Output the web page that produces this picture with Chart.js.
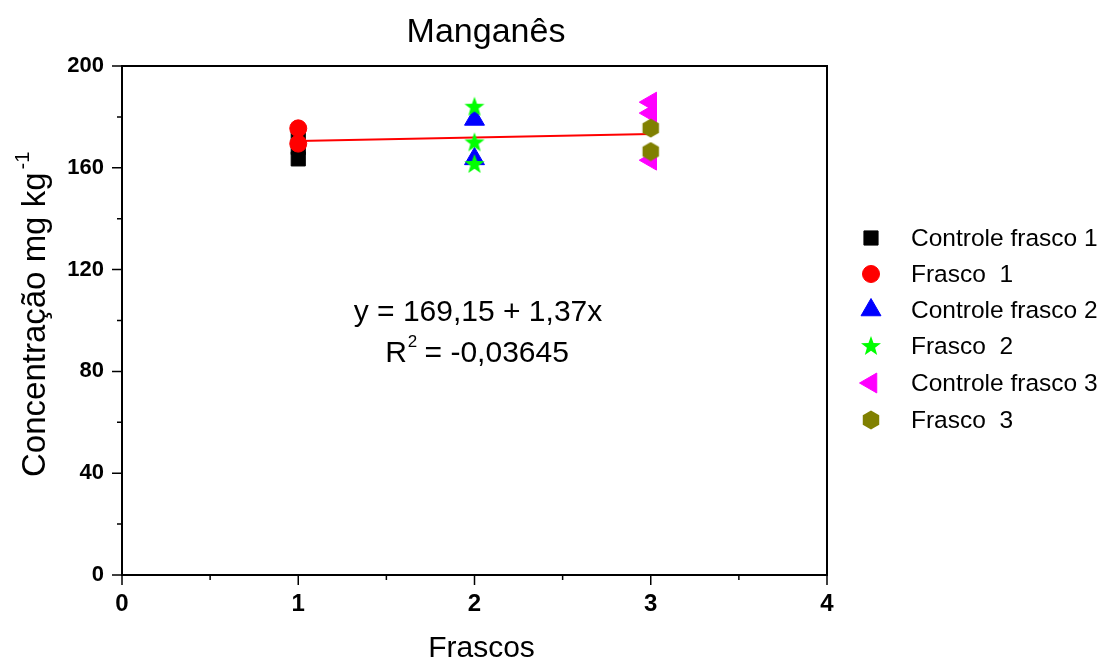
<!DOCTYPE html>
<html>
<head>
<meta charset="utf-8">
<title>Manganês</title>
<script src="https://cdn.jsdelivr.net/npm/chart.js@4/dist/chart.umd.min.js"></script>
<style>
  html, body { margin: 0; padding: 0; background: #fff; }
  canvas { display: block; }
</style>
</head>
<body>
<canvas id="chart" width="1104" height="662"></canvas>
<script>
// Mn concentration (mg/kg) per flask, replicate readings per group
const frascos = [1, 2, 3];
const xTicks = [0, 1, 2, 3, 4];
const yTicks = [0, 40, 80, 120, 160, 200];

const controleFrasco1 = [163.5, 168, 173];
const frasco1 = [175.5, 169.5];
const controleFrasco2 = [179, 163.5];
const frasco2 = [184, 170, 161.5];
const controleFrasco3 = [185.8, 181.5, 163];
const frasco3 = [175.6, 166.4];

// linear fit reported on the plot
const fitIntercept = 169.15;
const fitSlope = 1.37;
const fitR2 = '-0,03645';

const FONT = '"Liberation Sans", Arial, Helvetica, sans-serif';

function shapeCanvas(size, draw) {
  const c = document.createElement('canvas');
  c.width = size; c.height = size;
  const g = c.getContext('2d');
  draw(g, size / 2);
  return c;
}

const starImg = shapeCanvas(22, (g, c) => {
  const R = 10.5, r = 4.3;
  g.beginPath();
  for (let i = 0; i < 10; i++) {
    const a = -Math.PI / 2 + i * Math.PI / 5;
    const rad = i % 2 === 0 ? R : r;
    const px = c + rad * Math.cos(a), py = c + 0.5 + rad * Math.sin(a);
    i === 0 ? g.moveTo(px, py) : g.lineTo(px, py);
  }
  g.closePath();
  g.fillStyle = '#00ff00';
  g.fill();
});

const hexImg = shapeCanvas(20, (g, c) => {
  const R = 9.5;
  g.beginPath();
  for (let i = 0; i < 6; i++) {
    const a = -Math.PI / 2 + i * Math.PI / 3;
    const px = c + R * Math.cos(a), py = c + R * Math.sin(a);
    i === 0 ? g.moveTo(px, py) : g.lineTo(px, py);
  }
  g.closePath();
  g.fillStyle = '#808000';
  g.fill();
});

function points(x, values) {
  return values.map(v => ({ x: x, y: v }));
}

const series = [
  { label: 'Controle frasco 1', data: points(frascos[0], controleFrasco1), color: '#000000', style: 'rect', radius: 10, rotation: 0 },
  { label: 'Frasco  1', data: points(frascos[0], frasco1), color: '#ff0000', style: 'circle', radius: 8.5, rotation: 0 },
  { label: 'Controle frasco 2', data: points(frascos[1], controleFrasco2), color: '#0000ff', style: 'triangle', radius: 11.5, rotation: 0 },
  { label: 'Frasco  2', data: points(frascos[1], frasco2), color: '#00ff00', style: starImg, radius: 10, rotation: 0 },
  { label: 'Controle frasco 3', data: points(frascos[2], controleFrasco3), color: '#ff00ff', style: 'triangle', radius: 11.5, rotation: -90 },
  { label: 'Frasco  3', data: points(frascos[2], frasco3), color: '#808000', style: hexImg, radius: 9.5, rotation: 0 }
];

const datasets = series.map((s, i) => ({
  type: 'scatter',
  label: s.label,
  data: s.data,
  backgroundColor: s.color,
  borderColor: s.color,
  borderWidth: 1,
  pointStyle: s.style,
  pointRadius: s.radius,
  pointHoverRadius: s.radius,
  pointRotation: s.rotation,
  order: 10 - i,
  inLegend: true
}));

const fitStart = frascos[0], fitEnd = frascos[frascos.length - 1];
datasets.push({
  type: 'line',
  label: 'ajuste linear',
  data: [
    { x: fitStart, y: fitIntercept + fitSlope * fitStart },
    { x: fitEnd, y: fitIntercept + fitSlope * fitEnd }
  ],
  borderColor: '#ff0000',
  borderWidth: 2,
  pointRadius: 0,
  fill: false,
  order: 100,
  inLegend: false
});

// frame, tick marks, titles, legend and fit text
const decorations = {
  id: 'decorations',
  afterDraw(chart) {
    const ctx = chart.ctx;
    const area = chart.chartArea;
    const xs = chart.scales.x, ys = chart.scales.y;
    ctx.save();

    // plot frame
    ctx.strokeStyle = '#000';
    ctx.lineWidth = 2;
    ctx.strokeRect(area.left, area.top, area.right - area.left, area.bottom - area.top);

    // tick marks, major and minor, pointing outward
    ctx.lineWidth = 1.5;
    ctx.beginPath();
    for (let i = 0; i < xTicks.length; i++) {
      const px = xs.getPixelForValue(xTicks[i]);
      ctx.moveTo(px, area.bottom); ctx.lineTo(px, area.bottom + 10);
      if (i < xTicks.length - 1) {
        const mx = xs.getPixelForValue((xTicks[i] + xTicks[i + 1]) / 2);
        ctx.moveTo(mx, area.bottom); ctx.lineTo(mx, area.bottom + 5);
      }
    }
    for (let i = 0; i < yTicks.length; i++) {
      const py = ys.getPixelForValue(yTicks[i]);
      ctx.moveTo(area.left, py); ctx.lineTo(area.left - 10, py);
      if (i < yTicks.length - 1) {
        const my = ys.getPixelForValue((yTicks[i] + yTicks[i + 1]) / 2);
        ctx.moveTo(area.left, my); ctx.lineTo(area.left - 5, my);
      }
    }
    ctx.stroke();

    ctx.fillStyle = '#000';

    // chart title
    ctx.font = '34px ' + FONT;
    ctx.textAlign = 'center';
    ctx.textBaseline = 'alphabetic';
    ctx.fillText('Manganês', 486, 42);

    // x axis title
    ctx.font = '30px ' + FONT;
    ctx.fillText('Frascos', (area.left + area.right) / 2 + 7, 657);

    // y axis title with superscript unit
    ctx.save();
    ctx.translate(45, 477);
    ctx.rotate(-Math.PI / 2);
    ctx.textAlign = 'left';
    ctx.font = '33px ' + FONT;
    const main = 'Concentração mg kg';
    ctx.fillText(main, 0, 0);
    const w = ctx.measureText(main).width;
    ctx.font = '20px ' + FONT;
    ctx.fillText('-1', w + 3, -16);
    ctx.restore();

    // fit equation
    ctx.textAlign = 'left';
    ctx.font = '30px ' + FONT;
    const eq = 'y = ' + fitIntercept.toFixed(2).replace('.', ',') + ' + ' + fitSlope.toFixed(2).replace('.', ',') + 'x';
    const eqW = ctx.measureText(eq).width;
    ctx.fillText(eq, 478 - eqW / 2, 321);
    const rest = ' = ' + fitR2;
    const rW = ctx.measureText('R').width;
    const restW = ctx.measureText(rest).width;
    ctx.font = '17px ' + FONT;
    const supW = ctx.measureText('2').width;
    const totalW = rW + supW + restW;
    const x0 = 477 - totalW / 2;
    ctx.font = '30px ' + FONT;
    ctx.fillText('R', x0, 362);
    ctx.font = '17px ' + FONT;
    ctx.fillText('2', x0 + rW + 1, 347);
    ctx.font = '30px ' + FONT;
    ctx.fillText(rest, x0 + rW + supW, 362);

    // legend
    const rowY = [238, 274, 310, 346, 383, 420];
    let row = 0;
    chart.data.datasets.forEach(ds => {
      if (!ds.inLegend) return;
      const y = rowY[row++];
      ctx.fillStyle = ds.backgroundColor;
      ctx.strokeStyle = ds.borderColor;
      ctx.lineWidth = 1;
      Chart.helpers.drawPoint(ctx, {
        pointStyle: ds.pointStyle,
        radius: ds.pointRadius,
        rotation: ds.pointRotation,
        borderWidth: 1
      }, 871, y);
      ctx.fillStyle = '#000';
      ctx.font = '24.5px ' + FONT;
      ctx.textAlign = 'left';
      ctx.textBaseline = 'middle';
      ctx.fillText(ds.label, 911, y + 1);
    });

    ctx.restore();
  }
};

new Chart(document.getElementById('chart'), {
  data: { datasets: datasets },
  options: {
    responsive: false,
    devicePixelRatio: 1,
    animation: false,
    layout: { padding: { left: 0, top: 66, right: 277, bottom: 0 } },
    plugins: {
      legend: { display: false },
      title: { display: false },
      tooltip: { enabled: false }
    },
    scales: {
      x: {
        type: 'linear',
        min: xTicks[0],
        max: xTicks[xTicks.length - 1],
        afterBuildTicks(scale) { scale.ticks = xTicks.map(v => ({ value: v })); },
        afterFit(scale) { scale.height = 87; },
        grid: { display: false, drawTicks: false },
        border: { display: false },
        ticks: {
          color: '#000',
          font: { family: FONT, size: 24, weight: 'bold' },
          padding: 15,
          maxRotation: 0
        }
      },
      y: {
        type: 'linear',
        min: yTicks[0],
        max: yTicks[yTicks.length - 1],
        afterBuildTicks(scale) { scale.ticks = yTicks.map(v => ({ value: v })); },
        afterFit(scale) { scale.width = 122; },
        grid: { display: false, drawTicks: false },
        border: { display: false },
        ticks: {
          color: '#000',
          font: { family: FONT, size: 22, weight: 'bold' },
          padding: 18
        }
      }
    }
  },
  plugins: [decorations]
});
</script>
</body>
</html>
